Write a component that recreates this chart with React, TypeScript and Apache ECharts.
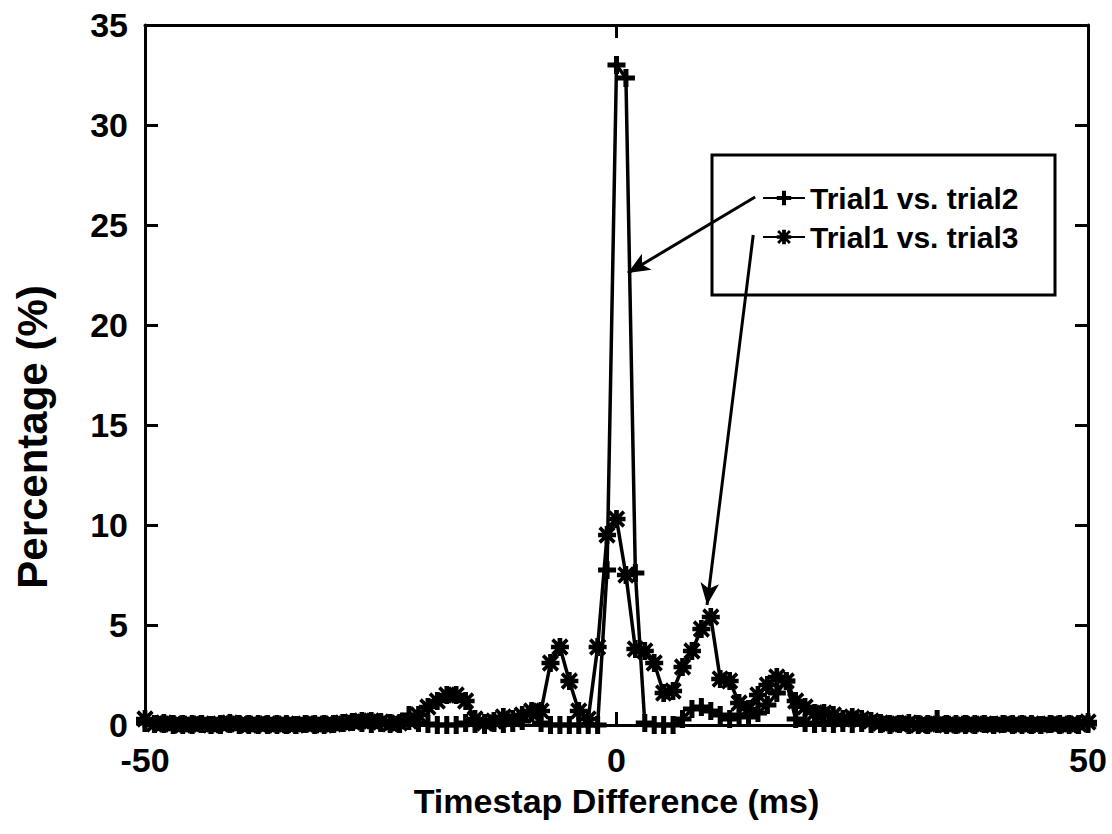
import React, { useEffect, useRef } from "react";
import * as echarts from "echarts";

const xValues: number[] = Array.from({ length: 101 }, (_, i) => i - 50);

const trial2: number[] = [
  0.1, 0.05, 0.05, 0, 0.05, 0, 0.05, 0, 0, 0.05,
  0, 0.05, 0, 0, 0.05, 0, 0, 0.05, 0, 0.05,
  0.05, 0.1, 0.15, 0.1, 0.05, 0.1, 0.1, 0.05, 0.5, 0.1,
  0.05, 0, 0, 0, 0.1, 0.05, 0, 0.1, 0.05, 0.1,
  0.2, 0.6, 0.1, 0, 0, 0, 0, 0, 0, 7.75,
  33.0, 32.35, 7.6, 0.1, 0, 0, 0, 0.3, 0.8, 0.9,
  0.7, 0.5, 0.3, 0.5, 0.4, 0.6, 1.0, 1.6, 2.2, 0.3,
  0.1, 0.05, 0.1, 0.05, 0.1, 0.05, 0.1, 0.05, 0.05, 0,
  0.05, 0, 0.05, 0, 0.3, 0.05, 0, 0.05, 0, 0.05,
  0, 0.05, 0, 0.05, 0, 0, 0.05, 0, 0.05, 0, 0.05,
];

const trial3: number[] = [
  0.3, 0.05, 0.1, 0.05, 0, 0.05, 0.05, 0, 0.05, 0.1,
  0.05, 0, 0.05, 0.05, 0, 0.05, 0, 0.05, 0.05, 0,
  0.05, 0.1, 0.15, 0.2, 0.2, 0.15, 0.05, 0.1, 0.2, 0.5,
  0.9, 1.2, 1.5, 1.5, 1.2, 0.3, 0.1, 0.2, 0.4, 0.3,
  0.5, 0.7, 0.7, 3.1, 3.9, 2.2, 0.7, 0.3, 3.9, 9.5,
  10.3, 7.5, 3.8, 3.7, 3.1, 1.6, 1.7, 2.9, 3.7, 4.8,
  5.4, 2.3, 2.2, 1.1, 0.8, 1.5, 2.0, 2.4, 2.2, 1.2,
  0.9, 0.6, 0.6, 0.5, 0.3, 0.4, 0.3, 0.2, 0.1, 0.05,
  0.05, 0.1, 0, 0.05, 0.05, 0, 0.05, 0, 0.05, 0.05,
  0, 0.05, 0.05, 0, 0.05, 0, 0.05, 0.05, 0, 0.05, 0.15,
];

const seriesNames: string[] = ["Trial1 vs. trial2", "Trial1 vs. trial3"];
const xTitle = "Timestap Difference (ms)";
const yTitle = "Percentage (%)";

// Arrow annotations: [startX, startY, endX, endY] in data units
const arrow1: number[] = [14.7, 26.4, 1.2, 22.6];
const arrow2: number[] = [14.5, 24.5, 9.6, 6.0];

const PLUS = "path://M3.6,0H6.4V3.6H10V6.4H6.4V10H3.6V6.4H0V3.6H3.6Z";
const STAR =
  "path://M3.7,0H6.3V3.7H10V6.3H6.3V10H3.7V6.3H0V3.7H3.7Z M1.6,0.2L9.8,8.4L8.4,9.8L0.2,1.6Z M8.4,0.2L9.8,1.6L1.6,9.8L0.2,8.4Z";

const FONT = "Liberation Sans";

export default function App() {
  const ref = useRef<HTMLDivElement>(null);
  useEffect(() => {
    if (!ref.current) return;
    const chart = echarts.init(ref.current, null, { renderer: "svg" });
    const d2 = xValues.map((x, i) => [x, trial2[i]]);
    const d3 = xValues.map((x, i) => [x, trial3[i]]);
    const axisCommon = {
      axisLine: { show: true, onZero: false, lineStyle: { color: "#000", width: 3 } },
      axisTick: { show: true, inside: true, length: 13, lineStyle: { color: "#000", width: 3 } },
      splitLine: { show: false },
    };
    const arrowData = (a: number[]) => [
      [
        { coord: [a[0], a[1]], symbol: "none" },
        { coord: [a[2], a[3]], symbol: "arrow", symbolSize: [14, 22] },
      ],
    ];
    chart.setOption({
      animation: false,
      backgroundColor: "#fff",
      grid: { left: 145, right: 24, top: 25, bottom: 109 },
      xAxis: [
        {
          type: "value",
          min: -50,
          max: 50,
          interval: 50,
          name: xTitle,
          nameLocation: "middle",
          nameGap: 59,
          nameTextStyle: { fontFamily: FONT, fontWeight: "bold", fontSize: 34, color: "#000" },
          axisLabel: { fontFamily: FONT, fontWeight: "bold", fontSize: 34, color: "#000", margin: 18 },
          ...axisCommon,
        },
        {
          type: "value",
          min: -50,
          max: 50,
          interval: 50,
          position: "top",
          axisLabel: { show: false },
          ...axisCommon,
        },
      ],
      yAxis: [
        {
          type: "value",
          min: 0,
          max: 35,
          interval: 5,
          axisLabel: { fontFamily: FONT, fontWeight: "bold", fontSize: 34, color: "#000", margin: 17 },
          ...axisCommon,
        },
        {
          type: "value",
          min: 0,
          max: 35,
          interval: 5,
          position: "right",
          axisLabel: { show: false },
          ...axisCommon,
        },
      ],
      legend: {
        left: 757,
        top: 178,
        orient: "vertical",
        itemWidth: 42,
        itemHeight: 18,
        itemGap: 9,
        textStyle: { fontFamily: FONT, fontWeight: "bold", fontSize: 30, color: "#000" },
        data: seriesNames,
      },
      graphic: [
        {
          type: "rect",
          shape: { x: 712, y: 155, width: 343, height: 140 },
          style: { fill: "none", stroke: "#000", lineWidth: 3 },
          z: 10,
        },
        {
          type: "text",
          x: 32,
          y: 437,
          rotation: Math.PI / 2,
          style: {
            text: yTitle,
            fontFamily: FONT,
            fontWeight: "bold",
            fontSize: 42,
            fill: "#000",
            align: "center",
            verticalAlign: "middle",
          },
        },
      ],
      series: [
        {
          name: seriesNames[0],
          type: "line",
          data: d2,
          symbol: PLUS,
          symbolSize: 18,
          showAllSymbol: true,
          itemStyle: { color: "#000" },
          lineStyle: { color: "#000", width: 3.5 },
          markLine: {
            silent: true,
            animation: false,
            label: { show: false },
            lineStyle: { color: "#000", width: 3, type: "solid" },
            data: arrowData(arrow1),
          },
        },
        {
          name: seriesNames[1],
          type: "line",
          data: d3,
          symbol: STAR,
          symbolSize: 18,
          showAllSymbol: true,
          itemStyle: { color: "#000" },
          lineStyle: { color: "#000", width: 3.5 },
          markLine: {
            silent: true,
            animation: false,
            label: { show: false },
            lineStyle: { color: "#000", width: 3, type: "solid" },
            data: arrowData(arrow2),
          },
        },
      ],
    });
    return () => chart.dispose();
  }, []);
  return (
    <div
      ref={ref}
      style={{ position: "fixed", left: 0, top: 0, width: 1112, height: 834 }}
    />
  );
}
